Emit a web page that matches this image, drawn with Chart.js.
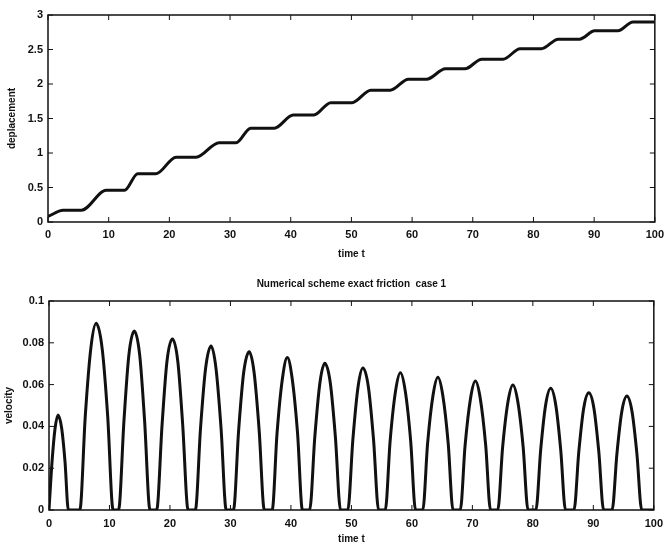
<!DOCTYPE html>
<html>
<head>
<meta charset="utf-8">
<script src="https://cdn.jsdelivr.net/npm/chart.js@4.4.0/dist/chart.umd.min.js"></script>
<style>
  body { margin: 0; background: #fff; }
  #wrap { position: relative; width: 670px; height: 545px; }
  #top { position: absolute; left: 0; top: 0; }
  #bottom { position: absolute; left: 0; top: 260px; }
</style>
</head>
<body>
<div id="wrap">
  <canvas id="top" width="670" height="260"></canvas>
  <canvas id="bottom" width="670" height="285"></canvas>
</div>
<script>
// displacement (top plot): plateau ends
var dispT = [0, 2.5, 5.5, 9.6, 12.6, 14.8, 17.8, 21.1, 24.4, 28.2, 31.0, 33.4, 37.3, 40.4, 43.8,
  46.6, 50.1, 53.2, 56.4, 59.4, 62.4, 65.5, 68.7, 71.5, 75.0, 77.8, 81.3, 84.1, 87.6,
  90.1, 93.9, 96.4, 100];
var dispV = [0.08, 0.17, 0.17, 0.46, 0.46, 0.70, 0.70, 0.94, 0.94, 1.15, 1.15, 1.36, 1.36, 1.55, 1.55,
  1.73, 1.73, 1.91, 1.91, 2.07, 2.07, 2.22, 2.22, 2.36, 2.36, 2.51, 2.51, 2.65, 2.65,
  2.77, 2.77, 2.90, 2.90];

// velocity (bottom plot): one hump per pulse
var velT = [
  0, 0.5, 1.0, 1.5, 2.1, 2.65, 3.2,
  5.1, 6.0, 6.9, 7.8, 8.8, 9.7, 10.6,
  11.5, 12.4, 13.2, 14.1, 15.0, 15.8, 16.7,
  17.8, 18.7, 19.5, 20.4, 21.3, 22.1, 23.0,
  24.2, 25.05, 25.9, 26.8, 27.6, 28.45, 29.3,
  30.5, 31.35, 32.2, 33.1, 33.9, 34.75, 35.6,
  36.9, 37.7, 38.6, 39.4, 40.2, 41.1, 41.9,
  43.1, 43.95, 44.8, 45.6, 46.5, 47.35, 48.2,
  49.4, 50.25, 51.1, 51.9, 52.8, 53.65, 54.5,
  55.6, 56.4, 57.3, 58.1, 58.9, 59.8, 60.6,
  61.8, 62.6, 63.5, 64.3, 65.1, 66.0, 66.8,
  68.0, 68.8, 69.7, 70.5, 71.3, 72.2, 73.0,
  74.2, 75.0, 75.9, 76.7, 77.5, 78.4, 79.2,
  80.5, 81.3, 82.1, 82.95, 83.8, 84.6, 85.4,
  86.8, 87.6, 88.4, 89.25, 90.1, 90.9, 91.7,
  93.1, 93.9, 94.7, 95.55, 96.4, 97.2, 98.0,
  100
];
var velV = [
  0, 0.023, 0.039, 0.0455, 0.039, 0.023, 0,
  0, 0.045, 0.077, 0.0893, 0.077, 0.045, 0,
  0, 0.043, 0.074, 0.0856, 0.074, 0.043, 0,
  0, 0.041, 0.071, 0.0818, 0.071, 0.041, 0,
  0, 0.039, 0.068, 0.0785, 0.068, 0.039, 0,
  0, 0.038, 0.066, 0.0757, 0.066, 0.038, 0,
  0, 0.0365, 0.063, 0.073, 0.063, 0.0365, 0,
  0, 0.035, 0.061, 0.0702, 0.061, 0.035, 0,
  0, 0.034, 0.059, 0.068, 0.059, 0.034, 0,
  0, 0.033, 0.057, 0.0657, 0.057, 0.033, 0,
  0, 0.032, 0.055, 0.0635, 0.055, 0.032, 0,
  0, 0.031, 0.0535, 0.0617, 0.0535, 0.031, 0,
  0, 0.030, 0.052, 0.0598, 0.052, 0.030, 0,
  0, 0.029, 0.050, 0.0582, 0.050, 0.029, 0,
  0, 0.028, 0.0486, 0.0561, 0.0486, 0.028, 0,
  0, 0.027, 0.047, 0.0545, 0.047, 0.027, 0,
  0
];

var tickFont = { family: "Liberation Sans", size: 11, weight: "bold" };
var labelFont = { family: "Liberation Sans", size: 10, weight: "bold" };

function toPoints(xs, ys) {
  return xs.map(function (x, i) { return { x: x, y: ys[i] }; });
}

// matlab style: 3 not 3.0, 0.1 not 0.10
function shortLabel(value) {
  return String(Number(value.toFixed(4)));
}

// box round the plot with ticks pointing inwards
var frame = {
  id: "frame",
  afterDraw: function (chart) {
    var ctx = chart.ctx;
    var a = chart.chartArea;
    var x = chart.scales.x, y = chart.scales.y;
    ctx.save();
    ctx.strokeStyle = "#111";
    ctx.lineWidth = 1.5;
    ctx.strokeRect(a.left, a.top, a.right - a.left, a.bottom - a.top);
    ctx.lineWidth = 1;
    ctx.beginPath();
    x.ticks.forEach(function (t) {
      var px = x.getPixelForValue(t.value);
      ctx.moveTo(px, a.bottom); ctx.lineTo(px, a.bottom - 5);
      ctx.moveTo(px, a.top); ctx.lineTo(px, a.top + 5);
    });
    y.ticks.forEach(function (t) {
      var py = y.getPixelForValue(t.value);
      ctx.moveTo(a.left, py); ctx.lineTo(a.left + 5, py);
      ctx.moveTo(a.right, py); ctx.lineTo(a.right - 5, py);
    });
    ctx.stroke();
    ctx.restore();
  }
};

function makeConfig(points, yMax, yStep, yTitle, opts) {
  return {
    type: "line",
    data: {
      datasets: [{
        data: points,
        borderColor: "#111",
        borderWidth: 3,
        pointRadius: 0,
        cubicInterpolationMode: "monotone",
        fill: false
      }]
    },
    options: {
      responsive: false,
      animation: false,
      layout: { padding: opts.padding },
      plugins: {
        legend: { display: false },
        tooltip: { enabled: false },
        title: opts.title
      },
      scales: {
        x: {
          type: "linear",
          min: 0,
          max: 100,
          grid: { display: false, drawTicks: false },
          border: { display: false },
          ticks: { stepSize: 10, color: "#111", font: tickFont, padding: opts.xPad, maxRotation: 0, callback: shortLabel },
          title: { display: true, text: "time t", color: "#111", font: labelFont, padding: { top: opts.xTitlePad, bottom: 0 } },
          afterFit: function (s) { s.height = opts.xHeight; }
        },
        y: {
          type: "linear",
          min: 0,
          max: yMax,
          grid: { display: false, drawTicks: false },
          border: { display: false },
          ticks: { stepSize: yStep, color: "#111", font: tickFont, padding: 5, callback: shortLabel },
          title: { display: true, text: yTitle, color: "#111", font: labelFont, padding: { top: opts.yTitlePad, bottom: 0 } },
          afterFit: function (s) { s.width = opts.yWidth; }
        }
      }
    },
    plugins: [frame]
  };
}

var topChart = new Chart(document.getElementById("top"), makeConfig(
  toPoints(dispT, dispV), 3, 0.5, "deplacement",
  {
    padding: { top: 15, right: 13, left: 0, bottom: 0 },
    title: { display: false },
    xPad: 6, xTitlePad: 3, xHeight: 38, yTitlePad: 6, yWidth: 48
  }
));

var bottomChart = new Chart(document.getElementById("bottom"), makeConfig(
  toPoints(velT, velV), 0.1, 0.02, "velocity",
  {
    padding: { top: 0, right: 12, left: 0, bottom: 0 },
    title: {
      display: true,
      text: "Numerical scheme exact friction  case 1",
      color: "#111",
      font: labelFont,
      fullSize: false,
      padding: { top: 18, bottom: 11 }
    },
    xPad: 7, xTitlePad: 1, xHeight: 35, yTitlePad: 3, yWidth: 49
  }
));
</script>
</body>
</html>
